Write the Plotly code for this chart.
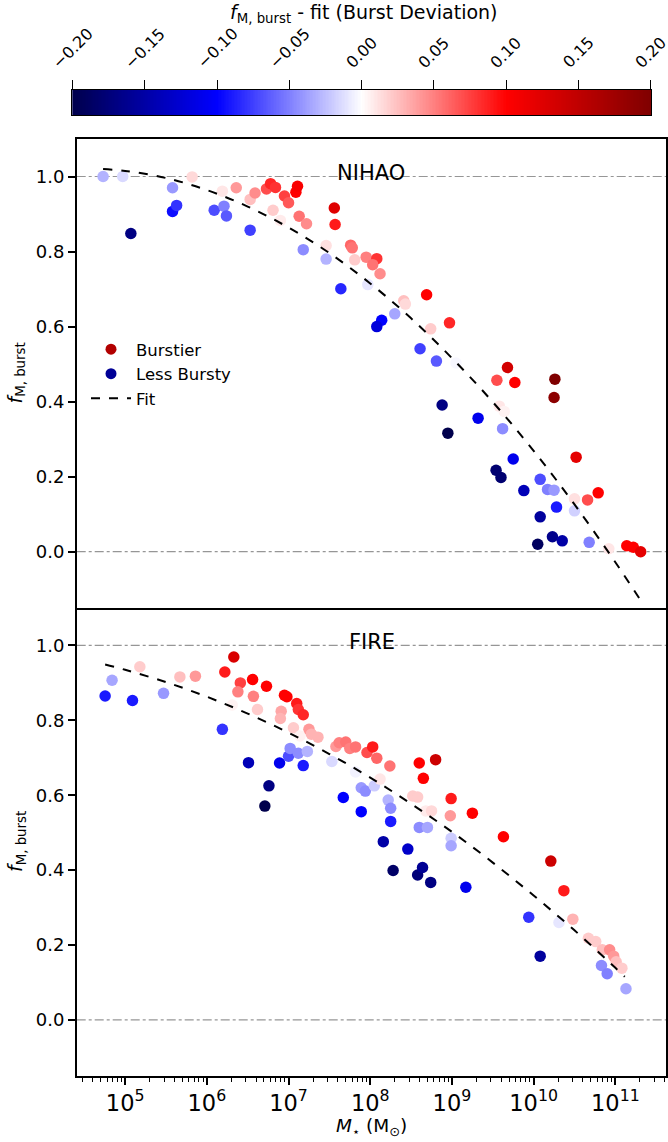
import numpy as np
import plotly.graph_objects as go

# ---------------- data ----------------
nihao_logm = [4.73, 4.97, 5.07, 5.58, 5.58, 5.63, 5.82, 6.09, 6.21, 6.24, 6.19, 6.36, 6.53, 6.53,
              6.59, 6.73, 6.78, 6.84, 6.81, 6.90, 6.95, 7.00, 7.09, 7.11, 7.13, 7.22, 7.18, 7.46,
              7.46, 7.56, 7.57, 7.64, 7.76, 7.78, 7.81, 7.95, 7.97, 8.08, 8.03, 8.12, 8.69, 8.41,
              8.43, 8.30, 8.14, 8.08, 8.97, 8.74, 8.61, 8.81, 9.05, 9.68, 9.55, 9.77, 10.26, 10.25,
              8.88, 8.95, 9.32, 9.58, 9.64, 9.62, 9.75, 9.54, 9.60, 10.52, 10.08, 10.17, 10.25, 9.88,
              10.28, 10.50, 10.50, 10.66, 10.79, 10.08, 10.05, 10.23, 10.35, 10.68, 10.92, 11.14,
              11.22, 11.31]
nihao_f = [1.00, 1.00, 0.848, 0.97, 0.907, 0.923, 0.999, 0.91, 0.921, 0.895, 0.961, 0.97, 0.857, 0.939,
           0.956, 0.967, 0.981, 0.971, 0.91, 0.883, 0.948, 0.93, 0.958, 0.974, 0.894, 0.874, 0.805, 0.816,
           0.78, 0.916, 0.872, 0.701, 0.817, 0.81, 0.778, 0.785, 0.712, 0.781, 0.765, 0.741, 0.685, 0.669,
           0.66, 0.634, 0.617, 0.60, 0.61, 0.594, 0.541, 0.508, 0.503, 0.491, 0.457, 0.451, 0.46, 0.411,
           0.391, 0.316, 0.356, 0.388, 0.374, 0.328, 0.247, 0.217, 0.198, 0.252, 0.193, 0.166, 0.164, 0.163,
           0.119, 0.141, 0.109, 0.138, 0.157, 0.093, 0.02, 0.04, 0.029, 0.025, 0.008, 0.016,
           0.012, 0.00]
nihao_dev = [-0.03, -0.015, -0.17, -0.04, -0.095, -0.08, 0.015, -0.07, -0.05, -0.065, 0.01, 0.04, -0.075, 0.025,
             0.045, 0.07, 0.085, 0.08, 0.02, 0.008, 0.075, 0.065, 0.10, 0.105, 0.055, 0.045, -0.045, 0.012,
             -0.03, 0.125, 0.09, -0.085, 0.06, 0.055, 0.02, 0.05, -0.01, 0.08, 0.055, 0.045, 0.10, 0.025,
             0.015, -0.035, -0.10, -0.12, 0.085, 0.02, -0.075, -0.065, -0.003, 0.135, 0.07, 0.10, 0.20, 0.19,
             -0.17, -0.20, -0.11, 0.01, 0.005, -0.045, -0.11, -0.18, -0.18, 0.12, -0.07, -0.05, -0.04, -0.14,
             -0.09, 0.012, -0.018, 0.07, 0.10, -0.155, -0.19, -0.165, -0.15, -0.05, 0.01, 0.10,
             0.10, 0.12]

fire_logm = [4.755, 4.84, 5.09, 5.18, 5.47, 5.67, 5.86, 6.19, 6.22, 6.33, 6.31, 6.41, 6.38, 6.51, 6.56,
             6.57, 6.62, 6.71, 6.76, 6.73, 6.89, 6.91, 6.90, 6.95, 6.98, 7.00, 7.02, 7.06, 7.10, 7.12,
             7.18, 7.12, 7.18, 7.23, 7.14, 7.25, 7.28, 7.36, 7.53, 7.58, 7.62, 7.70, 7.75, 7.82, 7.67,
             7.82, 7.89, 7.94, 7.89, 7.96, 8.03, 8.08, 8.24, 8.05, 8.12, 8.22, 8.25, 8.25, 8.60, 8.80,
             8.65, 8.52, 8.58, 8.99, 8.98, 9.25, 8.68, 8.75, 8.60, 8.70, 8.99, 8.99, 9.63, 8.16, 8.46,
             8.28, 8.58, 8.64, 8.74, 9.17, 9.94, 10.08, 10.21, 10.37, 10.31, 10.48, 10.67, 10.76, 10.84,
             10.93, 10.98, 11.01, 11.08, 10.83, 10.90, 11.13]
fire_f = [0.865, 0.907, 0.853, 0.943, 0.872, 0.916, 0.918, 0.776, 0.929, 0.969, 0.841, 0.90, 0.876, 0.687, 0.909,
          0.864, 0.829, 0.571, 0.625, 0.891, 0.686, 0.824, 0.805, 0.867, 0.863, 0.704, 0.725, 0.78, 0.845, 0.829,
          0.815, 0.712, 0.679, 0.717, 0.758, 0.776, 0.763, 0.755, 0.69, 0.73, 0.74, 0.742, 0.725, 0.729, 0.594,
          0.662, 0.62, 0.611, 0.556, 0.714, 0.729, 0.699, 0.678, 0.625, 0.643, 0.587, 0.565, 0.53, 0.686, 0.695,
          0.645, 0.598, 0.595, 0.591, 0.545, 0.552, 0.558, 0.558, 0.514, 0.514, 0.485, 0.465, 0.489, 0.476, 0.456,
          0.399, 0.387, 0.407, 0.367, 0.354, 0.274, 0.17, 0.424, 0.345, 0.26, 0.269, 0.218, 0.209, 0.187,
          0.187, 0.17, 0.155, 0.138, 0.145, 0.123, 0.083]
fire_dev = [-0.09, -0.035, -0.09, 0.02, -0.04, 0.025, 0.04, -0.08, 0.09, 0.13, 0.005, 0.075, 0.05, -0.14, 0.10,
            0.05, 0.02, -0.20, -0.17, 0.10, -0.11, 0.035, 0.03, 0.10, 0.10, -0.07, -0.045, 0.02, 0.09, 0.08,
            0.085, -0.045, -0.09, -0.03, 0.005, 0.04, 0.03, 0.03, -0.015, 0.04, 0.05, 0.055, 0.05, 0.055, -0.10,
            -0.005, -0.04, -0.045, -0.10, 0.07, 0.09, 0.06, 0.055, -0.02, 0.01, -0.03, -0.045, -0.09, 0.10, 0.14,
            0.10, 0.02, 0.02, 0.09, 0.04, 0.10, 0.008, 0.015, -0.045, -0.035, -0.02, -0.035, 0.10, -0.15, -0.13,
            -0.185, -0.175, -0.16, -0.17, -0.11, -0.08, -0.155, 0.14, 0.09, -0.01, 0.03, 0.02, 0.02, 0.025,
            0.045, 0.04, 0.025, 0.02, -0.045, -0.05, -0.035]

# fit curves
nihao_fit_logm = [4.73, 5.0, 5.5, 6.0, 6.5, 7.0, 7.5, 8.0, 8.5, 9.0, 9.5, 10.0, 10.5, 11.0, 11.31]
nihao_fit_f = [1.020, 1.015, 0.996, 0.964, 0.920, 0.864, 0.796, 0.715, 0.622, 0.516, 0.399, 0.269, 0.126, -0.028, -0.130]
fire_fit_logm = [4.755, 5.0, 5.5, 6.0, 6.5, 7.0, 7.5, 8.0, 8.5, 9.0, 9.5, 10.0, 10.5, 11.0, 11.115]
fire_fit_f = [0.949, 0.935, 0.902, 0.863, 0.818, 0.767, 0.710, 0.647, 0.577, 0.502, 0.420, 0.332, 0.239, 0.139, 0.115]

ref_levels = [0.0, 1.0]
cbar_ticks = [-0.20, -0.15, -0.10, -0.05, 0.00, 0.05, 0.10, 0.15, 0.20]
y_ticks = [0.0, 0.2, 0.4, 0.6, 0.8, 1.0]
panel_names = ["NIHAO", "FIRE"]

# ---------------- style ----------------
W, H = 668, 1142
FONT = "DejaVu Sans"
seismic = [[0.0, "rgb(0,0,76)"], [0.25, "rgb(0,0,255)"], [0.5, "rgb(255,255,255)"],
           [0.75, "rgb(255,0,0)"], [1.0, "rgb(127,0,0)"]]
CMIN, CMAX = -0.2, 0.2


def px_x(p):
    return p / W


def px_y(p):
    return 1 - p / H


x_dom = [px_x(76.7), px_x(666)]
top_dom = [px_y(608), px_y(139)]
bot_dom = [px_y(1076), px_y(608)]
cb_xdom = [px_x(72.3), px_x(651)]
cb_ydom = [px_y(115), px_y(90)]

x_range = [4.407, 11.62]
y_range = [-0.15, 1.10]

fig = go.Figure()


def add_panel(logm, f, dev, fit_x, fit_y, xa, ya, legend):
    fig.add_trace(go.Scatter(
        x=[10 ** v for v in logm], y=f, mode="markers", xaxis=xa, yaxis=ya, showlegend=False,
        marker=dict(size=11.5, color=dev, colorscale=seismic, cmin=CMIN, cmax=CMAX, line=dict(width=0)),
        hoverinfo="skip"))
    fig.add_trace(go.Scatter(
        x=[10 ** v for v in fit_x], y=fit_y, mode="lines", xaxis=xa, yaxis=ya, name="Fit",
        showlegend=legend, line=dict(color="black", width=2, dash="dash", shape="spline"),
        legendrank=3))


# legend helpers
fig.add_trace(go.Scatter(x=[None], y=[None], mode="markers", name="Burstier",
                         marker=dict(size=11, color="rgb(178,0,0)"), legendrank=1))
fig.add_trace(go.Scatter(x=[None], y=[None], mode="markers", name="Less Bursty",
                         marker=dict(size=11, color="rgb(0,0,150)"), legendrank=2))

add_panel(nihao_logm, nihao_f, nihao_dev, nihao_fit_logm, nihao_fit_f, "x", "y", True)
add_panel(fire_logm, fire_f, fire_dev, fire_fit_logm, fire_fit_f, "x2", "y2", False)

# colour bar drawn as a heatmap strip
cb_vals = np.linspace(CMIN, CMAX, 401)
fig.add_trace(go.Heatmap(x=cb_vals, y=[0], z=[cb_vals], colorscale=seismic, zmin=CMIN, zmax=CMAX,
                         showscale=False, xaxis="x3", yaxis="y3", hoverinfo="skip"))

TICKFONT = dict(family=FONT, size=18, color="black")
axis_common = dict(showline=True, linecolor="black", linewidth=1.5, showgrid=False,
                   zeroline=False, automargin=False, tickfont=TICKFONT)

xa_common = dict(axis_common, type="log", range=x_range, dtick=1, exponentformat="power",
                 showexponent="all")
ya_common = dict(axis_common, range=y_range, tickvals=y_ticks, tickformat=".1f", mirror=True,
                 ticks="outside", ticklen=7, tickwidth=1.5, tickcolor="black")

fig.update_layout(
    width=W, height=H, margin=dict(l=0, r=0, t=0, b=0),
    paper_bgcolor="white", plot_bgcolor="white",
    font=dict(family=FONT, size=15, color="black"),
    xaxis=dict(xa_common, domain=x_dom, anchor="y", showticklabels=False, ticks="", mirror=True),
    yaxis=dict(ya_common, domain=top_dom, anchor="x"),
    xaxis2=dict(xa_common, domain=x_dom, anchor="y2", ticks="outside", ticklen=7, tickwidth=1.5,
                tickcolor="black", mirror=False,
                minor=dict(ticks="outside", ticklen=4, tickwidth=1.2, tickcolor="black", showgrid=False)),
    yaxis2=dict(ya_common, domain=bot_dom, anchor="x2"),
    xaxis3=dict(domain=cb_xdom, anchor="y3", range=[CMIN - 1e-4, CMAX + 1e-4], side="top",
                tickvals=cbar_ticks, showticklabels=False,
                ticks="outside", ticklen=9, tickwidth=1.2, tickcolor="black",
                showline=True, linecolor="black", linewidth=1.2, mirror=True, showgrid=False,
                zeroline=False, automargin=False),
    yaxis3=dict(domain=cb_ydom, anchor="x3", range=[-0.5, 0.5], showticklabels=False, ticks="",
                showline=True, linecolor="black", linewidth=1.2, mirror=True, showgrid=False,
                zeroline=False, automargin=False),
    legend=dict(x=px_x(86), y=px_y(332), xanchor="left", yanchor="top", bgcolor="rgba(0,0,0,0)",
                font=dict(family=FONT, size=16.5, color="black"), traceorder="normal",
                itemwidth=40),
)

# reference levels
for ya, xa in (("y", "x"), ("y2", "x2")):
    for lev in ref_levels:
        fig.add_shape(type="line", xref=xa + " domain", yref=ya, x0=0, x1=1, y0=lev, y1=lev,
                      line=dict(color="rgb(150,150,150)", width=1.2, dash="dashdot"), layer="below")

ann_font = dict(family=FONT, color="black")


def ann(text, x, y, size, **kw):
    fig.add_annotation(text=text, xref=kw.pop("xref", "paper"), yref="paper", x=x, y=y,
                       showarrow=False, xanchor=kw.pop("xanchor", "center"),
                       yanchor=kw.pop("yanchor", "middle"), font=dict(ann_font, size=size), **kw)


ann(panel_names[0], px_x(371), px_y(173), 21)
ann(panel_names[1], px_x(372), px_y(642), 21)
for yc in (373.5, 842):
    ann("<i>f</i><sub>M, burst</sub>", px_x(16), px_y(yc), 19, textangle=-90)
ann("<i>M</i><sub>\u22c6</sub> (M<sub>\u2299</sub>)", px_x(372), px_y(1127), 18.5)
ann("<i>f</i><sub>M, burst</sub> - fit (Burst Deviation)", px_x(363), px_y(14), 19)

# colour-bar tick labels, rotated like the reference
for v in cbar_ticks:
    label = ("\u2212%.2f" % abs(v)) if v < 0 else "%.2f" % v
    ann(label, v, px_y(75), 16, xref="x3", yanchor="bottom", textangle=-45)

fig.write_html("out.html", config={"displayModeBar": False},
               post_script="document.body.style.margin='0px';")
